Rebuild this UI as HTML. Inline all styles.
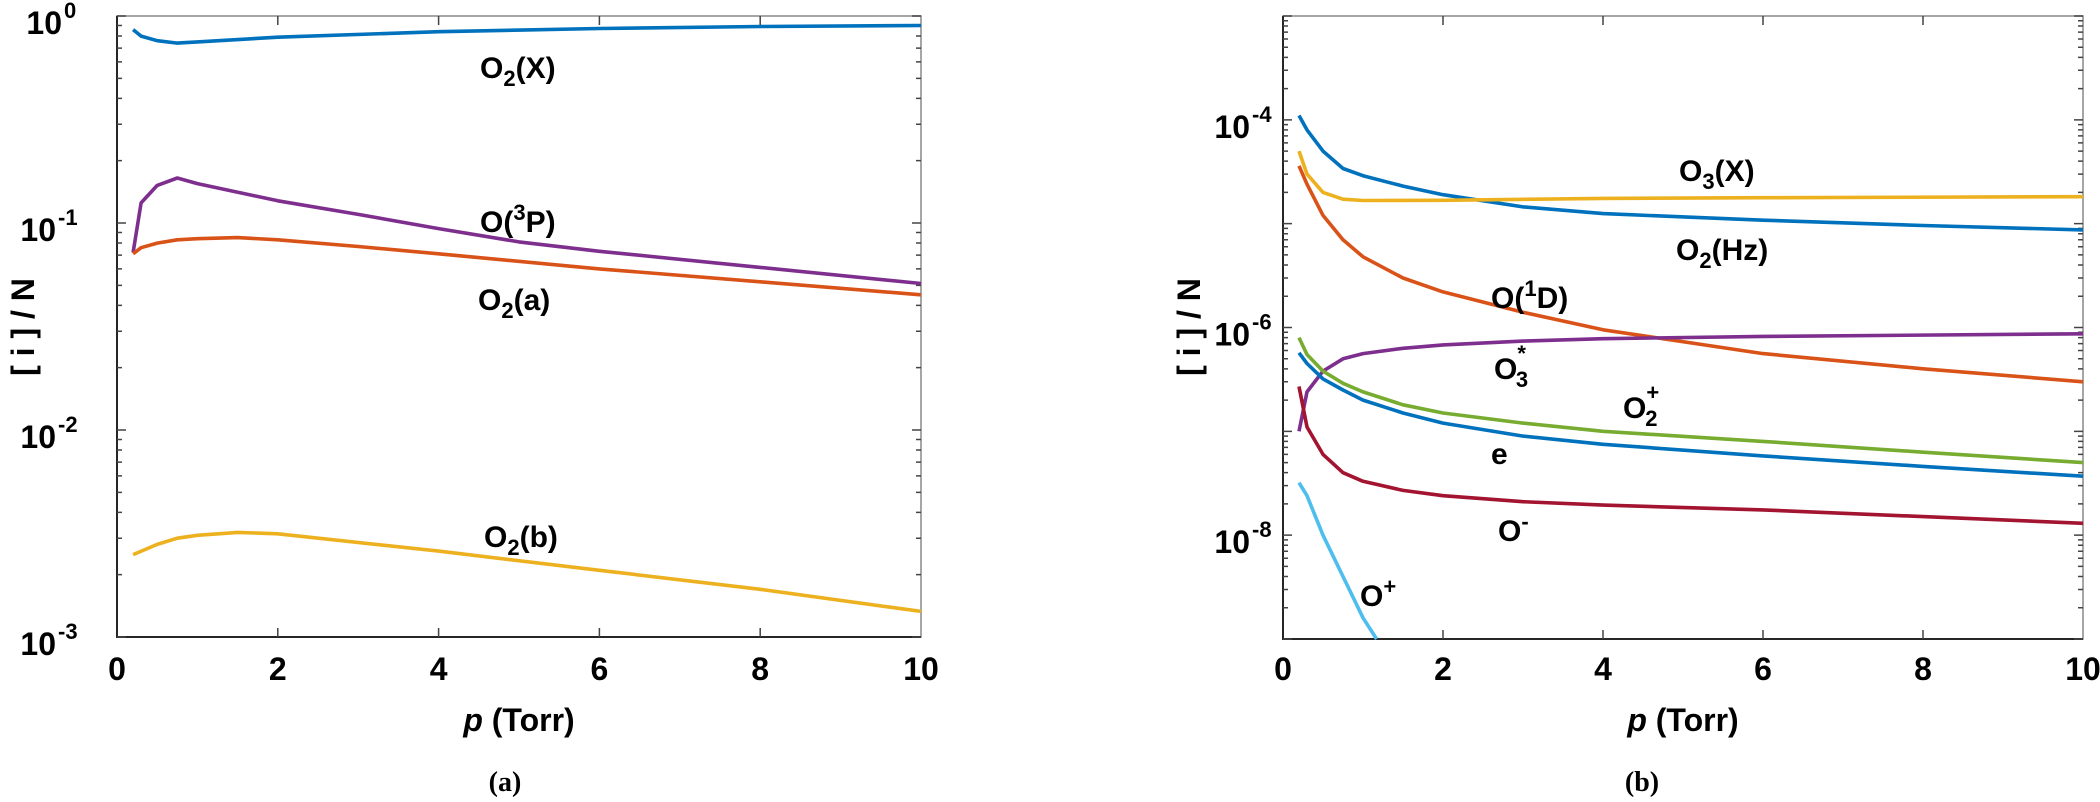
<!DOCTYPE html>
<html><head><meta charset="utf-8"><style>
html,body{margin:0;padding:0;background:#fff;}
svg text{font-family:"Liberation Sans",Arial,sans-serif;font-weight:bold;fill:#000;}
</style></head><body>
<svg id="s" width="2100" height="797" xmlns="http://www.w3.org/2000/svg"></svg>
<script>
const S=document.getElementById('s');let h='';
function ax(x0,x1,y0,y1,lmin,lmax){
 const fx=p=>x0+(x1-x0)*p/10, fy=v=>y1-(y1-y0)*(Math.log10(v)-lmin)/(lmax-lmin);
 h+=`<rect x="${x0}" y="${y0}" width="${x1-x0}" height="${y1-y0}" fill="none" stroke="#888" stroke-width="1.5"/>`;
 h+=`<path d="M${x0},${y0}V${y1}H${x1}" fill="none" stroke="#262626" stroke-width="2"/>`;
 let t='';
 for(let k=2;k<=8;k+=2){const x=fx(k);t+=`M${x},${y1}v-9M${x},${y0}v9`;}
 for(let L=lmin;L<=lmax;L++){const y=fy(Math.pow(10,L));t+=`M${x0},${y}h9M${x1},${y}h-9`;
  if(L<lmax)for(let m=2;m<=9;m++){const yy=fy(m*Math.pow(10,L));t+=`M${x0},${yy}h5M${x1},${yy}h-5`;}}
 h+=`<path d="${t}" stroke="#444" stroke-width="1.5" fill="none"/>`;
 for(let k=0;k<=10;k+=2)h+=`<text x="${fx(k)}" y="680" font-size="32" text-anchor="middle">${k}</text>`;
 return [fx,fy];
}
function line(f,d,c){const [fx,fy]=f;h+=`<polyline fill="none" stroke="${c}" stroke-width="3.6" stroke-linejoin="round" points="${d.map(a=>fx(a[0]).toFixed(1)+','+fy(a[1]).toFixed(1)).join(' ')}"/>`;}
function lab(x,y,s){h+=`<text x="${x}" y="${y}" font-size="30">${s}</text>`;}
const A=ax(117,921,16,637,-3,0);
[[0,'0'],[-1,'-1'],[-2,'-2'],[-3,'-3']].forEach(([L,s])=>{const y=A[1](Math.pow(10,L));h+=`<text x="${L==0?62:56}" y="${y+18}" font-size="32" text-anchor="end">10</text><text x="${L==0?64:58}" y="${y+2}" font-size="22">${s}</text>`;});
line(A,[[0.2,0.86],[0.3,0.8],[0.5,0.76],[0.75,0.74],[1,0.75],[2,0.79],[4,0.84],[6,0.87],[8,0.89],[10,0.9]],'#0072BD');
line(A,[[0.2,0.072],[0.3,0.125],[0.5,0.152],[0.75,0.165],[1,0.155],[2,0.128],[3,0.11],[4,0.094],[5,0.081],[6,0.073],[8,0.061],[10,0.051]],'#7E2F8E');
line(A,[[0.2,0.071],[0.3,0.076],[0.5,0.08],[0.75,0.083],[1,0.084],[1.5,0.085],[2,0.083],[3,0.077],[4,0.071],[6,0.06],[8,0.052],[10,0.045]],'#D95319');
line(A,[[0.2,0.0025],[0.5,0.0028],[0.75,0.0030],[1,0.0031],[1.5,0.0032],[2,0.00315],[4,0.0026],[6,0.0021],[8,0.0017],[10,0.00133]],'#EDB120');
lab(480,78,'O<tspan font-size="22" dy="8">2</tspan><tspan dy="-8">(X)</tspan>');
lab(480,232,'O(<tspan font-size="22" dy="-12">3</tspan><tspan dy="12">P)</tspan>');
lab(478,310,'O<tspan font-size="22" dy="8">2</tspan><tspan dy="-8">(a)</tspan>');
lab(484,547,'O<tspan font-size="22" dy="8">2</tspan><tspan dy="-8">(b)</tspan>');
h+=`<text transform="translate(34,327) rotate(-90)" font-size="32" text-anchor="middle">[ i ] / N</text>`;
h+=`<text x="519" y="731" font-size="32" text-anchor="middle"><tspan font-style="italic">p</tspan> (Torr)</text>`;
h+=`<text x="505" y="791" font-size="28" text-anchor="middle" style="font-family:'Liberation Serif',serif">(a)</text>`;

const B=ax(1283,2083,16,639,-9,-3);
[[-4,'-4'],[-6,'-6'],[-8,'-8']].forEach(([L,s])=>{const y=B[1](Math.pow(10,L));h+=`<text x="1250" y="${y+18}" font-size="32" text-anchor="end">10</text><text x="1252" y="${y+2}" font-size="22">${s}</text>`;});
line(B,[[0.2,1.1e-4],[0.3,8e-5],[0.5,5e-5],[0.75,3.4e-5],[1,2.9e-5],[1.5,2.3e-5],[2,1.9e-5],[3,1.45e-5],[4,1.25e-5],[6,1.08e-5],[8,9.6e-6],[10,8.7e-6]],'#0072BD');
line(B,[[0.2,5e-5],[0.3,3e-5],[0.5,2e-5],[0.75,1.72e-5],[1,1.67e-5],[2,1.68e-5],[4,1.75e-5],[6,1.78e-5],[10,1.82e-5]],'#EDB120');
line(B,[[0.2,3.6e-5],[0.3,2.4e-5],[0.5,1.2e-5],[0.75,7e-6],[1,4.8e-6],[1.5,3e-6],[2,2.2e-6],[3,1.4e-6],[4,9.5e-7],[6,5.6e-7],[8,4e-7],[10,3e-7]],'#D95319');
line(B,[[0.2,1e-7],[0.3,2.4e-7],[0.5,3.8e-7],[0.75,5e-7],[1,5.6e-7],[1.5,6.3e-7],[2,6.8e-7],[3,7.4e-7],[4,7.8e-7],[6,8.2e-7],[10,8.7e-7]],'#7E2F8E');
line(B,[[0.2,8e-7],[0.3,5.5e-7],[0.5,3.8e-7],[0.75,2.9e-7],[1,2.4e-7],[1.5,1.8e-7],[2,1.5e-7],[3,1.2e-7],[4,1e-7],[6,8e-8],[8,6.3e-8],[10,5e-8]],'#77AC30');
line(B,[[0.2,5.7e-7],[0.3,4.5e-7],[0.5,3.2e-7],[0.75,2.5e-7],[1,2e-7],[1.5,1.5e-7],[2,1.2e-7],[3,9e-8],[4,7.5e-8],[6,5.8e-8],[8,4.6e-8],[10,3.7e-8]],'#0072BD');
line(B,[[0.2,2.7e-7],[0.3,1.1e-7],[0.5,6e-8],[0.75,4e-8],[1,3.3e-8],[1.5,2.7e-8],[2,2.4e-8],[3,2.1e-8],[4,1.95e-8],[6,1.75e-8],[10,1.3e-8]],'#A2142F');
line(B,[[0.2,3.2e-8],[0.3,2.4e-8],[0.5,1e-8],[0.75,4e-9],[1,1.6e-9],[1.17,1e-9]],'#4DBEEE');
lab(1679,181,'O<tspan font-size="22" dy="8">3</tspan><tspan dy="-8">(X)</tspan>');
lab(1676,260,'O<tspan font-size="22" dy="8">2</tspan><tspan dy="-8">(Hz)</tspan>');
lab(1491,308,'O(<tspan font-size="22" dy="-12">1</tspan><tspan dy="12">D)</tspan>');
lab(1494,379,'O<tspan font-size="22" dy="-18">*</tspan><tspan font-size="22" dx="-10" dy="26">3</tspan>');
lab(1623,418,'O<tspan font-size="22" dy="-18">+</tspan><tspan font-size="22" dx="-14" dy="26">2</tspan>');
lab(1491,464,'e');
lab(1498,541,'O<tspan font-size="22" dy="-12">-</tspan>');
lab(1360,606,'O<tspan font-size="22" dy="-12">+</tspan>');
h+=`<text transform="translate(1200,327) rotate(-90)" font-size="32" text-anchor="middle">[ i ] / N</text>`;
h+=`<text x="1683" y="731" font-size="32" text-anchor="middle"><tspan font-style="italic">p</tspan> (Torr)</text>`;
h+=`<text x="1642" y="791" font-size="28" text-anchor="middle" style="font-family:'Liberation Serif',serif">(b)</text>`;
S.innerHTML=h;
</script>
</body></html>
